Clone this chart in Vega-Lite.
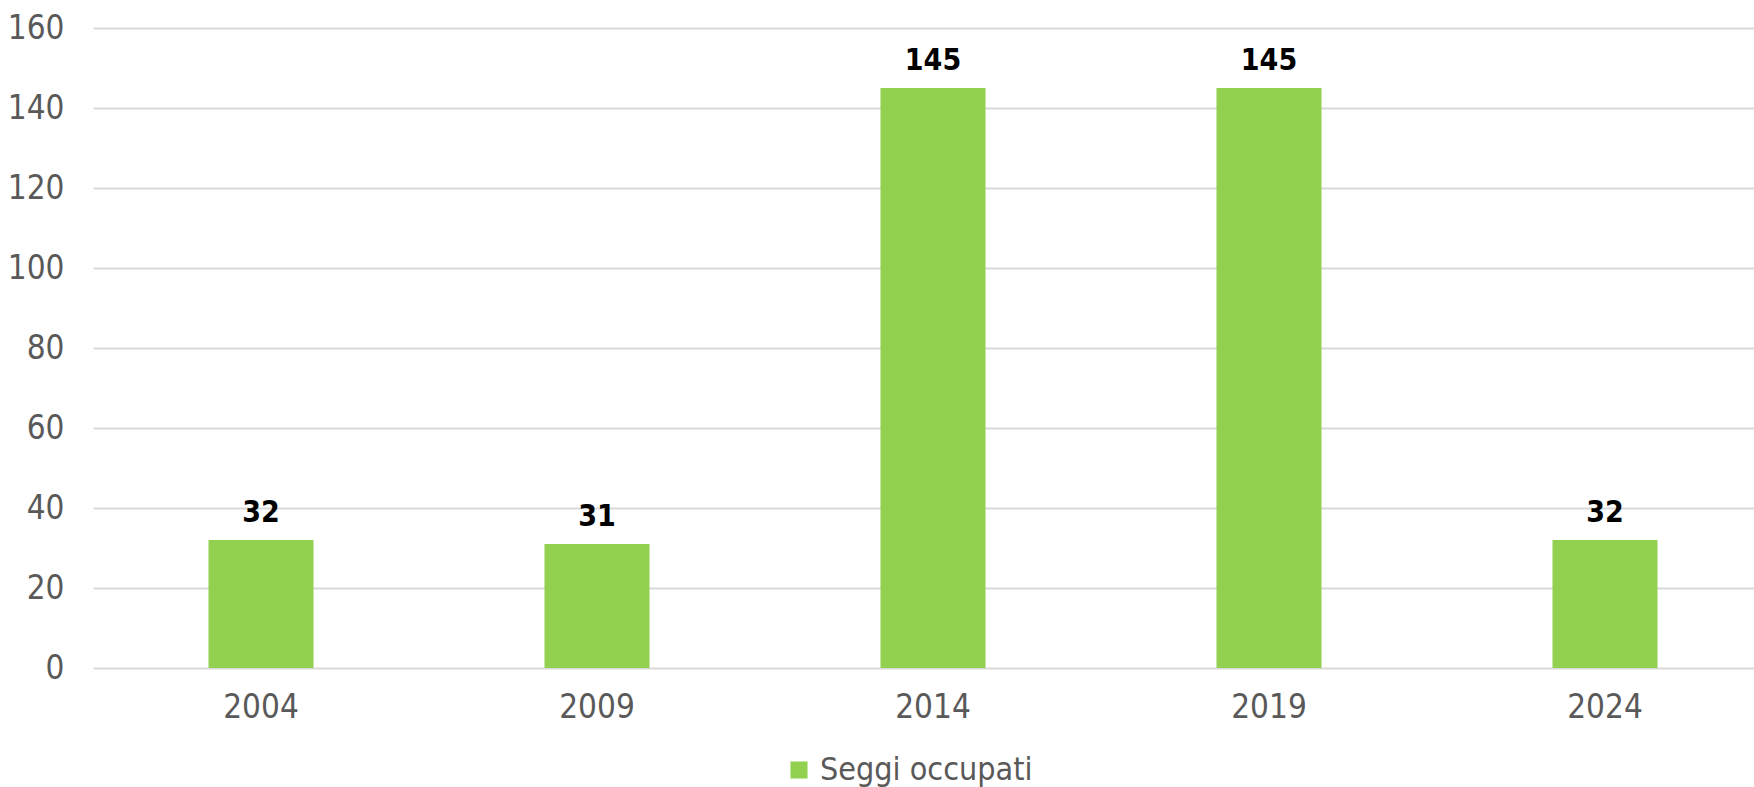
{
  "$schema": "https://vega.github.io/schema/vega-lite/v6.json",
  "width": 1661,
  "height": 640,
  "autosize": {"type": "none"},
  "padding": {"left": 93, "top": 28, "right": 0, "bottom": 119},
  "background": "white",
  "config": {
    "view": {"stroke": null},
    "font": "DejaVu Sans Condensed, DejaVu Sans"
  },
  "data": {
    "values": [
      {"anno": "2004", "seggi": 32, "serie": "Seggi occupati"},
      {"anno": "2009", "seggi": 31, "serie": "Seggi occupati"},
      {"anno": "2014", "seggi": 145, "serie": "Seggi occupati"},
      {"anno": "2019", "seggi": 145, "serie": "Seggi occupati"},
      {"anno": "2024", "seggi": 32, "serie": "Seggi occupati"}
    ]
  },
  "encoding": {
    "x": {
      "field": "anno",
      "type": "ordinal",
      "scale": {"range": [0, 1680], "paddingInner": 0.6875, "paddingOuter": 0.34375},
      "axis": {
        "title": null,
        "labelAngle": 0,
        "labelFontSize": 33,
        "labelColor": "#595959",
        "labelPadding": 23,
        "ticks": false,
        "domain": false,
        "grid": false
      }
    },
    "y": {
      "field": "seggi",
      "type": "quantitative",
      "scale": {"domain": [0, 160], "nice": false},
      "axis": {
        "title": null,
        "values": [0, 20, 40, 60, 80, 100, 120, 140, 160],
        "labelFontSize": 33,
        "labelColor": "#595959",
        "labelPadding": 29,
        "ticks": false,
        "domain": false,
        "grid": true,
        "gridColor": "#D9D9D9",
        "gridWidth": 2
      }
    }
  },
  "layer": [
    {
      "mark": {"type": "bar"},
      "encoding": {
        "color": {
          "field": "serie",
          "type": "nominal",
          "scale": {"range": ["#92D050"]},
          "legend": {
            "title": null,
            "orient": "none",
            "legendX": 690,
            "legendY": 726,
            "symbolType": "square",
            "symbolSize": 290,
            "symbolStrokeWidth": 0,
            "symbolOpacity": 1,
            "labelFontSize": 32,
            "labelLimit": 500,
            "labelColor": "#595959",
            "labelOffset": 5,
            "symbolOffset": 0
          }
        }
      }
    },
    {
      "mark": {"type": "text", "dy": -18, "baseline": "alphabetic", "fontSize": 30, "fontWeight": "bold", "color": "#000000"},
      "encoding": {"text": {"field": "seggi", "type": "quantitative"}}
    }
  ]
}
